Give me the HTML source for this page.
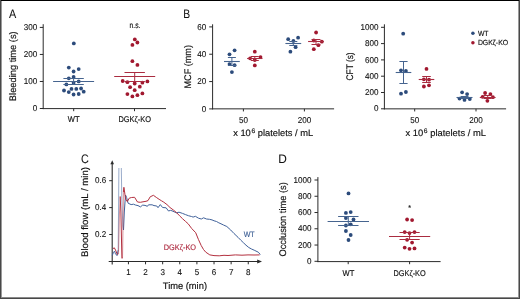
<!DOCTYPE html>
<html><head><meta charset="utf-8"><style>
html,body{margin:0;padding:0;background:#fff;}
body{width:520px;height:299px;overflow:hidden;}
svg{display:block;font-family:"Liberation Sans", sans-serif;will-change:transform;text-rendering:geometricPrecision;}
</style></head><body>
<svg width="520" height="299" viewBox="0 0 520 299">
<rect x="0" y="0" width="520" height="299" fill="#fff"/>
<text transform="translate(9.00,17.60) scale(0.88,1)" x="0" y="0" font-size="12.35" fill="#111" stroke="#111" stroke-width="0.05">A</text>
<line x1="43.20" y1="24.20" x2="43.20" y2="109.10" stroke="#2a2a2a" stroke-width="1.0"/>
<line x1="39.80" y1="108.50" x2="43.20" y2="108.50" stroke="#2a2a2a" stroke-width="1.0"/>
<text x="37.20" y="111.10" font-size="8.5" text-anchor="end" fill="#111" stroke="#111" stroke-width="0.1" textLength="4.50" lengthAdjust="spacingAndGlyphs" >0</text>
<line x1="39.80" y1="81.47" x2="43.20" y2="81.47" stroke="#2a2a2a" stroke-width="1.0"/>
<text x="37.20" y="84.07" font-size="8.5" text-anchor="end" fill="#111" stroke="#111" stroke-width="0.1" textLength="13.50" lengthAdjust="spacingAndGlyphs" >100</text>
<line x1="39.80" y1="54.44" x2="43.20" y2="54.44" stroke="#2a2a2a" stroke-width="1.0"/>
<text x="37.20" y="57.04" font-size="8.5" text-anchor="end" fill="#111" stroke="#111" stroke-width="0.1" textLength="13.50" lengthAdjust="spacingAndGlyphs" >200</text>
<line x1="39.80" y1="27.41" x2="43.20" y2="27.41" stroke="#2a2a2a" stroke-width="1.0"/>
<text x="37.20" y="30.01" font-size="8.5" text-anchor="end" fill="#111" stroke="#111" stroke-width="0.1" textLength="13.50" lengthAdjust="spacingAndGlyphs" >300</text>
<line x1="42.70" y1="108.60" x2="166.00" y2="108.60" stroke="#2a2a2a" stroke-width="1.0"/>
<line x1="73.70" y1="108.60" x2="73.70" y2="111.20" stroke="#2a2a2a" stroke-width="1.0"/>
<line x1="134.50" y1="108.60" x2="134.50" y2="111.20" stroke="#2a2a2a" stroke-width="1.0"/>
<text x="73.70" y="122.40" font-size="8.3" text-anchor="middle" fill="#111" stroke="#111" stroke-width="0.16" textLength="11.8" lengthAdjust="spacingAndGlyphs" >WT</text>
<text x="134.70" y="122.40" font-size="8.3" text-anchor="middle" fill="#111" stroke="#111" stroke-width="0.16" textLength="32.6" lengthAdjust="spacingAndGlyphs" >DGKζ-KO</text>
<text x="129.60" y="27.50" font-size="8.2" text-anchor="start" fill="#111" stroke="#111" stroke-width="0.16" textLength="10.9" lengthAdjust="spacingAndGlyphs" >n.s.</text>
<text transform="translate(15.80,66.25) rotate(-90)" x="0" y="0" font-size="9.6" text-anchor="middle" fill="#111" stroke="#111" stroke-width="0.16" textLength="69.8" lengthAdjust="spacingAndGlyphs">Bleeding time (s)</text>
<circle cx="73.80" cy="43.40" r="1.9" fill="#2c4b7b"/>
<circle cx="68.80" cy="67.60" r="1.9" fill="#2c4b7b"/>
<circle cx="78.70" cy="69.10" r="1.9" fill="#2c4b7b"/>
<circle cx="73.60" cy="71.50" r="1.9" fill="#2c4b7b"/>
<circle cx="68.80" cy="78.30" r="1.9" fill="#2c4b7b"/>
<circle cx="73.60" cy="77.00" r="1.9" fill="#2c4b7b"/>
<circle cx="78.70" cy="81.40" r="1.9" fill="#2c4b7b"/>
<circle cx="66.40" cy="84.40" r="1.9" fill="#2c4b7b"/>
<circle cx="73.60" cy="82.80" r="1.9" fill="#2c4b7b"/>
<circle cx="64.00" cy="90.50" r="1.9" fill="#2c4b7b"/>
<circle cx="71.50" cy="88.90" r="1.9" fill="#2c4b7b"/>
<circle cx="76.30" cy="88.90" r="1.9" fill="#2c4b7b"/>
<circle cx="81.10" cy="88.50" r="1.9" fill="#2c4b7b"/>
<circle cx="68.80" cy="92.10" r="1.9" fill="#2c4b7b"/>
<circle cx="83.70" cy="91.70" r="1.9" fill="#2c4b7b"/>
<circle cx="73.60" cy="94.50" r="1.9" fill="#2c4b7b"/>
<circle cx="78.70" cy="94.00" r="1.9" fill="#2c4b7b"/>
<line x1="53.10" y1="81.50" x2="94.10" y2="81.50" stroke="#46648f" stroke-width="1.1"/>
<line x1="63.40" y1="78.50" x2="83.80" y2="78.50" stroke="#46648f" stroke-width="1.0"/>
<line x1="63.40" y1="84.50" x2="83.80" y2="84.50" stroke="#46648f" stroke-width="1.0"/>
<line x1="73.60" y1="78.50" x2="73.60" y2="84.50" stroke="#46648f" stroke-width="1.0"/>
<circle cx="134.80" cy="39.40" r="1.9" fill="#a1182f"/>
<circle cx="137.40" cy="42.50" r="1.9" fill="#a1182f"/>
<circle cx="132.40" cy="44.90" r="1.9" fill="#a1182f"/>
<circle cx="132.40" cy="61.20" r="1.9" fill="#a1182f"/>
<circle cx="137.40" cy="64.90" r="1.9" fill="#a1182f"/>
<circle cx="122.70" cy="81.00" r="1.9" fill="#a1182f"/>
<circle cx="127.40" cy="82.20" r="1.9" fill="#a1182f"/>
<circle cx="134.70" cy="83.50" r="1.9" fill="#a1182f"/>
<circle cx="142.40" cy="82.70" r="1.9" fill="#a1182f"/>
<circle cx="147.40" cy="81.40" r="1.9" fill="#a1182f"/>
<circle cx="130.10" cy="87.20" r="1.9" fill="#a1182f"/>
<circle cx="139.80" cy="86.70" r="1.9" fill="#a1182f"/>
<circle cx="134.70" cy="90.20" r="1.9" fill="#a1182f"/>
<circle cx="127.40" cy="94.10" r="1.9" fill="#a1182f"/>
<circle cx="132.40" cy="96.40" r="1.9" fill="#a1182f"/>
<circle cx="137.40" cy="95.20" r="1.9" fill="#a1182f"/>
<circle cx="142.40" cy="93.40" r="1.9" fill="#a1182f"/>
<line x1="114.20" y1="76.50" x2="155.20" y2="76.50" stroke="#aa2c40" stroke-width="1.1"/>
<line x1="124.50" y1="72.50" x2="144.90" y2="72.50" stroke="#aa2c40" stroke-width="1.0"/>
<line x1="124.50" y1="81.50" x2="144.90" y2="81.50" stroke="#aa2c40" stroke-width="1.0"/>
<line x1="134.70" y1="72.50" x2="134.70" y2="81.50" stroke="#aa2c40" stroke-width="1.0"/>
<text transform="translate(183.20,17.70) scale(0.84,1)" x="0" y="0" font-size="12.35" fill="#111" stroke="#111" stroke-width="0.05">B</text>
<line x1="212.60" y1="24.30" x2="212.60" y2="109.35" stroke="#2a2a2a" stroke-width="1.0"/>
<line x1="209.20" y1="108.90" x2="212.60" y2="108.90" stroke="#2a2a2a" stroke-width="1.0"/>
<text x="206.20" y="111.50" font-size="8.5" text-anchor="end" fill="#111" stroke="#111" stroke-width="0.1" textLength="4.50" lengthAdjust="spacingAndGlyphs" >0</text>
<line x1="209.20" y1="81.57" x2="212.60" y2="81.57" stroke="#2a2a2a" stroke-width="1.0"/>
<text x="206.20" y="84.17" font-size="8.5" text-anchor="end" fill="#111" stroke="#111" stroke-width="0.1" textLength="9.00" lengthAdjust="spacingAndGlyphs" >20</text>
<line x1="209.20" y1="54.23" x2="212.60" y2="54.23" stroke="#2a2a2a" stroke-width="1.0"/>
<text x="206.20" y="56.83" font-size="8.5" text-anchor="end" fill="#111" stroke="#111" stroke-width="0.1" textLength="9.00" lengthAdjust="spacingAndGlyphs" >40</text>
<line x1="209.20" y1="26.90" x2="212.60" y2="26.90" stroke="#2a2a2a" stroke-width="1.0"/>
<text x="206.20" y="29.50" font-size="8.5" text-anchor="end" fill="#111" stroke="#111" stroke-width="0.1" textLength="9.00" lengthAdjust="spacingAndGlyphs" >60</text>
<line x1="212.10" y1="108.85" x2="334.10" y2="108.85" stroke="#2a2a2a" stroke-width="1.0"/>
<line x1="243.40" y1="108.85" x2="243.40" y2="111.45" stroke="#2a2a2a" stroke-width="1.0"/>
<line x1="304.40" y1="108.85" x2="304.40" y2="111.45" stroke="#2a2a2a" stroke-width="1.0"/>
<text x="243.40" y="123.20" font-size="8.5" text-anchor="middle" fill="#111" stroke="#111" stroke-width="0.1" textLength="9.00" lengthAdjust="spacingAndGlyphs" >50</text>
<text x="304.40" y="123.20" font-size="8.5" text-anchor="middle" fill="#111" stroke="#111" stroke-width="0.1" textLength="13.50" lengthAdjust="spacingAndGlyphs" >200</text>
<text transform="translate(190.60,66.80) rotate(-90)" x="0" y="0" font-size="9.6" text-anchor="middle" fill="#111" stroke="#111" stroke-width="0.16" textLength="43.4" lengthAdjust="spacingAndGlyphs">MCF (mm)</text>
<text x="233.20" y="136.20" font-size="9.2" fill="#111" stroke="#111" stroke-width="0.16" textLength="79.9" lengthAdjust="spacingAndGlyphs">x 10<tspan font-size="6.6" dx="0.6" dy="-2.8">6</tspan><tspan dy="2.8"> platelets / mL</tspan></text>
<circle cx="234.60" cy="50.30" r="1.9" fill="#2c4b7b"/>
<circle cx="229.50" cy="54.30" r="1.9" fill="#2c4b7b"/>
<circle cx="229.50" cy="64.10" r="1.9" fill="#2c4b7b"/>
<circle cx="234.60" cy="65.20" r="1.9" fill="#2c4b7b"/>
<circle cx="231.90" cy="72.10" r="1.9" fill="#2c4b7b"/>
<line x1="224.00" y1="61.50" x2="239.80" y2="61.50" stroke="#46648f" stroke-width="1.1"/>
<line x1="227.90" y1="57.50" x2="235.90" y2="57.50" stroke="#46648f" stroke-width="1.0"/>
<line x1="227.90" y1="65.50" x2="235.90" y2="65.50" stroke="#46648f" stroke-width="1.0"/>
<line x1="231.90" y1="57.50" x2="231.90" y2="65.50" stroke="#46648f" stroke-width="1.0"/>
<circle cx="254.80" cy="51.70" r="1.9" fill="#a1182f"/>
<circle cx="250.10" cy="58.30" r="1.9" fill="#a1182f"/>
<circle cx="260.50" cy="57.10" r="1.9" fill="#a1182f"/>
<circle cx="254.80" cy="60.00" r="1.9" fill="#a1182f"/>
<circle cx="254.80" cy="65.40" r="1.9" fill="#a1182f"/>
<line x1="247.10" y1="58.50" x2="262.50" y2="58.50" stroke="#aa2c40" stroke-width="1.1"/>
<line x1="250.80" y1="56.50" x2="258.80" y2="56.50" stroke="#aa2c40" stroke-width="1.0"/>
<line x1="250.80" y1="60.50" x2="258.80" y2="60.50" stroke="#aa2c40" stroke-width="1.0"/>
<line x1="254.80" y1="56.50" x2="254.80" y2="60.50" stroke="#aa2c40" stroke-width="1.0"/>
<circle cx="288.20" cy="39.20" r="1.9" fill="#2c4b7b"/>
<circle cx="298.10" cy="37.70" r="1.9" fill="#2c4b7b"/>
<circle cx="293.40" cy="40.90" r="1.9" fill="#2c4b7b"/>
<circle cx="295.60" cy="47.20" r="1.9" fill="#2c4b7b"/>
<circle cx="290.40" cy="51.70" r="1.9" fill="#2c4b7b"/>
<line x1="285.40" y1="43.50" x2="301.20" y2="43.50" stroke="#46648f" stroke-width="1.1"/>
<line x1="289.30" y1="41.50" x2="297.30" y2="41.50" stroke="#46648f" stroke-width="1.0"/>
<line x1="289.30" y1="45.50" x2="297.30" y2="45.50" stroke="#46648f" stroke-width="1.0"/>
<line x1="293.30" y1="41.50" x2="293.30" y2="45.50" stroke="#46648f" stroke-width="1.0"/>
<circle cx="316.10" cy="32.50" r="1.9" fill="#a1182f"/>
<circle cx="313.80" cy="40.50" r="1.9" fill="#a1182f"/>
<circle cx="321.80" cy="41.70" r="1.9" fill="#a1182f"/>
<circle cx="318.40" cy="45.20" r="1.9" fill="#a1182f"/>
<circle cx="313.80" cy="49.20" r="1.9" fill="#a1182f"/>
<line x1="308.10" y1="41.50" x2="323.90" y2="41.50" stroke="#aa2c40" stroke-width="1.1"/>
<line x1="311.50" y1="39.50" x2="320.50" y2="39.50" stroke="#aa2c40" stroke-width="1.0"/>
<line x1="311.50" y1="44.50" x2="320.50" y2="44.50" stroke="#aa2c40" stroke-width="1.0"/>
<line x1="316.00" y1="39.50" x2="316.00" y2="44.50" stroke="#aa2c40" stroke-width="1.0"/>
<line x1="384.40" y1="24.30" x2="384.40" y2="109.35" stroke="#2a2a2a" stroke-width="1.0"/>
<line x1="381.00" y1="108.80" x2="384.40" y2="108.80" stroke="#2a2a2a" stroke-width="1.0"/>
<text x="378.40" y="111.40" font-size="8.5" text-anchor="end" fill="#111" stroke="#111" stroke-width="0.1" textLength="4.50" lengthAdjust="spacingAndGlyphs" >0</text>
<line x1="381.00" y1="92.50" x2="384.40" y2="92.50" stroke="#2a2a2a" stroke-width="1.0"/>
<text x="378.40" y="95.10" font-size="8.5" text-anchor="end" fill="#111" stroke="#111" stroke-width="0.1" textLength="13.50" lengthAdjust="spacingAndGlyphs" >200</text>
<line x1="381.00" y1="76.20" x2="384.40" y2="76.20" stroke="#2a2a2a" stroke-width="1.0"/>
<text x="378.40" y="78.80" font-size="8.5" text-anchor="end" fill="#111" stroke="#111" stroke-width="0.1" textLength="13.50" lengthAdjust="spacingAndGlyphs" >400</text>
<line x1="381.00" y1="59.90" x2="384.40" y2="59.90" stroke="#2a2a2a" stroke-width="1.0"/>
<text x="378.40" y="62.50" font-size="8.5" text-anchor="end" fill="#111" stroke="#111" stroke-width="0.1" textLength="13.50" lengthAdjust="spacingAndGlyphs" >600</text>
<line x1="381.00" y1="43.60" x2="384.40" y2="43.60" stroke="#2a2a2a" stroke-width="1.0"/>
<text x="378.40" y="46.20" font-size="8.5" text-anchor="end" fill="#111" stroke="#111" stroke-width="0.1" textLength="13.50" lengthAdjust="spacingAndGlyphs" >800</text>
<line x1="381.00" y1="27.30" x2="384.40" y2="27.30" stroke="#2a2a2a" stroke-width="1.0"/>
<text x="378.40" y="29.90" font-size="8.5" text-anchor="end" fill="#111" stroke="#111" stroke-width="0.1" textLength="18.00" lengthAdjust="spacingAndGlyphs" >1000</text>
<line x1="383.90" y1="108.85" x2="506.10" y2="108.85" stroke="#2a2a2a" stroke-width="1.0"/>
<line x1="414.70" y1="108.85" x2="414.70" y2="111.45" stroke="#2a2a2a" stroke-width="1.0"/>
<line x1="476.00" y1="108.85" x2="476.00" y2="111.45" stroke="#2a2a2a" stroke-width="1.0"/>
<text x="414.70" y="123.20" font-size="8.5" text-anchor="middle" fill="#111" stroke="#111" stroke-width="0.1" textLength="9.00" lengthAdjust="spacingAndGlyphs" >50</text>
<text x="476.00" y="123.20" font-size="8.5" text-anchor="middle" fill="#111" stroke="#111" stroke-width="0.1" textLength="13.50" lengthAdjust="spacingAndGlyphs" >200</text>
<text transform="translate(352.60,66.40) rotate(-90)" x="0" y="0" font-size="9.6" text-anchor="middle" fill="#111" stroke="#111" stroke-width="0.16" textLength="28" lengthAdjust="spacingAndGlyphs">CFT (s)</text>
<text x="405.50" y="136.20" font-size="9.2" fill="#111" stroke="#111" stroke-width="0.16" textLength="80.5" lengthAdjust="spacingAndGlyphs">x 10<tspan font-size="6.6" dx="0.6" dy="-2.8">6</tspan><tspan dy="2.8"> platelets / mL</tspan></text>
<circle cx="403.20" cy="33.70" r="1.9" fill="#2c4b7b"/>
<circle cx="401.00" cy="70.30" r="1.9" fill="#2c4b7b"/>
<circle cx="405.90" cy="70.90" r="1.9" fill="#2c4b7b"/>
<circle cx="401.00" cy="93.70" r="1.9" fill="#2c4b7b"/>
<circle cx="405.90" cy="92.00" r="1.9" fill="#2c4b7b"/>
<line x1="395.70" y1="72.50" x2="411.30" y2="72.50" stroke="#46648f" stroke-width="1.1"/>
<line x1="399.40" y1="61.50" x2="407.60" y2="61.50" stroke="#46648f" stroke-width="1.0"/>
<line x1="399.40" y1="83.50" x2="407.60" y2="83.50" stroke="#46648f" stroke-width="1.0"/>
<line x1="403.50" y1="61.50" x2="403.50" y2="83.50" stroke="#46648f" stroke-width="1.0"/>
<circle cx="426.50" cy="68.90" r="1.9" fill="#a1182f"/>
<circle cx="423.90" cy="79.30" r="1.9" fill="#a1182f"/>
<circle cx="429.00" cy="79.70" r="1.9" fill="#a1182f"/>
<circle cx="423.90" cy="86.50" r="1.9" fill="#a1182f"/>
<circle cx="429.00" cy="85.30" r="1.9" fill="#a1182f"/>
<line x1="418.70" y1="79.50" x2="434.30" y2="79.50" stroke="#aa2c40" stroke-width="1.1"/>
<line x1="422.20" y1="76.50" x2="430.80" y2="76.50" stroke="#aa2c40" stroke-width="1.0"/>
<line x1="422.20" y1="82.50" x2="430.80" y2="82.50" stroke="#aa2c40" stroke-width="1.0"/>
<line x1="426.50" y1="76.50" x2="426.50" y2="82.50" stroke="#aa2c40" stroke-width="1.0"/>
<circle cx="462.10" cy="92.30" r="1.9" fill="#2c4b7b"/>
<circle cx="467.10" cy="94.10" r="1.9" fill="#2c4b7b"/>
<circle cx="459.50" cy="98.60" r="1.9" fill="#2c4b7b"/>
<circle cx="464.50" cy="99.90" r="1.9" fill="#2c4b7b"/>
<circle cx="469.80" cy="99.00" r="1.9" fill="#2c4b7b"/>
<line x1="456.50" y1="97.50" x2="472.50" y2="97.50" stroke="#46648f" stroke-width="1.1"/>
<line x1="460.50" y1="96.50" x2="468.50" y2="96.50" stroke="#46648f" stroke-width="1.0"/>
<line x1="460.50" y1="98.50" x2="468.50" y2="98.50" stroke="#46648f" stroke-width="1.0"/>
<line x1="464.50" y1="96.50" x2="464.50" y2="98.50" stroke="#46648f" stroke-width="1.0"/>
<circle cx="485.10" cy="93.00" r="1.9" fill="#a1182f"/>
<circle cx="490.40" cy="94.10" r="1.9" fill="#a1182f"/>
<circle cx="482.60" cy="96.80" r="1.9" fill="#a1182f"/>
<circle cx="492.90" cy="97.20" r="1.9" fill="#a1182f"/>
<circle cx="487.40" cy="100.80" r="1.9" fill="#a1182f"/>
<line x1="479.80" y1="97.50" x2="495.60" y2="97.50" stroke="#aa2c40" stroke-width="1.1"/>
<line x1="483.70" y1="95.50" x2="491.70" y2="95.50" stroke="#aa2c40" stroke-width="1.0"/>
<line x1="483.70" y1="98.50" x2="491.70" y2="98.50" stroke="#aa2c40" stroke-width="1.0"/>
<line x1="487.70" y1="95.50" x2="487.70" y2="98.50" stroke="#aa2c40" stroke-width="1.0"/>
<circle cx="472.90" cy="33.30" r="1.75" fill="#2c4b7b"/>
<circle cx="472.90" cy="42.80" r="1.75" fill="#a1182f"/>
<text x="477.90" y="35.90" font-size="7.4" text-anchor="start" fill="#111" stroke="#111" stroke-width="0.16" textLength="10.6" lengthAdjust="spacingAndGlyphs" >WT</text>
<text x="477.90" y="45.40" font-size="7.4" text-anchor="start" fill="#111" stroke="#111" stroke-width="0.16" textLength="30.2" lengthAdjust="spacingAndGlyphs" >DGKζ-KO</text>
<text transform="translate(80.90,163.00) scale(0.87,1)" x="0" y="0" font-size="12.35" fill="#111" stroke="#111" stroke-width="0.05">C</text>
<line x1="112.20" y1="163.50" x2="112.20" y2="261.90" stroke="#2a2a2a" stroke-width="1.1"/>
<path d="M110.4,164.2 L112.2,160.3 L114.0,164.2 Z" fill="#2a2a2a"/>
<line x1="109.20" y1="234.50" x2="112.20" y2="234.50" stroke="#2a2a2a" stroke-width="1.0"/>
<text x="106.20" y="237.10" font-size="8.5" text-anchor="end" fill="#111" stroke="#111" stroke-width="0.1" textLength="11.20" lengthAdjust="spacingAndGlyphs" >0.2</text>
<line x1="109.20" y1="207.60" x2="112.20" y2="207.60" stroke="#2a2a2a" stroke-width="1.0"/>
<text x="106.20" y="210.20" font-size="8.5" text-anchor="end" fill="#111" stroke="#111" stroke-width="0.1" textLength="11.20" lengthAdjust="spacingAndGlyphs" >0.4</text>
<line x1="109.20" y1="180.70" x2="112.20" y2="180.70" stroke="#2a2a2a" stroke-width="1.0"/>
<text x="106.20" y="183.30" font-size="8.5" text-anchor="end" fill="#111" stroke="#111" stroke-width="0.1" textLength="11.20" lengthAdjust="spacingAndGlyphs" >0.6</text>
<line x1="108.70" y1="261.50" x2="258.00" y2="261.50" stroke="#2a2a2a" stroke-width="1.1"/>
<path d="M257.2,259.6 L262.0,261.5 L257.2,263.4 Z" fill="#2a2a2a"/>
<line x1="112.20" y1="261.50" x2="112.20" y2="264.60" stroke="#2a2a2a" stroke-width="1.1"/>
<line x1="128.43" y1="261.50" x2="128.43" y2="264.30" stroke="#2a2a2a" stroke-width="1.0"/>
<text x="128.43" y="275.40" font-size="8.5" text-anchor="middle" fill="#111" stroke="#111" stroke-width="0.1" textLength="4.50" lengthAdjust="spacingAndGlyphs" >1</text>
<line x1="145.55" y1="261.50" x2="145.55" y2="264.30" stroke="#2a2a2a" stroke-width="1.0"/>
<text x="145.55" y="275.40" font-size="8.5" text-anchor="middle" fill="#111" stroke="#111" stroke-width="0.1" textLength="4.50" lengthAdjust="spacingAndGlyphs" >2</text>
<line x1="162.66" y1="261.50" x2="162.66" y2="264.30" stroke="#2a2a2a" stroke-width="1.0"/>
<text x="162.66" y="275.40" font-size="8.5" text-anchor="middle" fill="#111" stroke="#111" stroke-width="0.1" textLength="4.50" lengthAdjust="spacingAndGlyphs" >3</text>
<line x1="179.78" y1="261.50" x2="179.78" y2="264.30" stroke="#2a2a2a" stroke-width="1.0"/>
<text x="179.78" y="275.40" font-size="8.5" text-anchor="middle" fill="#111" stroke="#111" stroke-width="0.1" textLength="4.50" lengthAdjust="spacingAndGlyphs" >4</text>
<line x1="196.90" y1="261.50" x2="196.90" y2="264.30" stroke="#2a2a2a" stroke-width="1.0"/>
<text x="196.90" y="275.40" font-size="8.5" text-anchor="middle" fill="#111" stroke="#111" stroke-width="0.1" textLength="4.50" lengthAdjust="spacingAndGlyphs" >5</text>
<line x1="214.02" y1="261.50" x2="214.02" y2="264.30" stroke="#2a2a2a" stroke-width="1.0"/>
<text x="214.02" y="275.40" font-size="8.5" text-anchor="middle" fill="#111" stroke="#111" stroke-width="0.1" textLength="4.50" lengthAdjust="spacingAndGlyphs" >6</text>
<line x1="231.14" y1="261.50" x2="231.14" y2="264.30" stroke="#2a2a2a" stroke-width="1.0"/>
<text x="231.14" y="275.40" font-size="8.5" text-anchor="middle" fill="#111" stroke="#111" stroke-width="0.1" textLength="4.50" lengthAdjust="spacingAndGlyphs" >7</text>
<line x1="248.25" y1="261.50" x2="248.25" y2="264.30" stroke="#2a2a2a" stroke-width="1.0"/>
<text x="248.25" y="275.40" font-size="8.5" text-anchor="middle" fill="#111" stroke="#111" stroke-width="0.1" textLength="4.50" lengthAdjust="spacingAndGlyphs" >8</text>
<text x="184.90" y="288.90" font-size="9.5" text-anchor="middle" fill="#111" stroke="#111" stroke-width="0.16" textLength="44.2" lengthAdjust="spacingAndGlyphs" >Time (min)</text>
<text transform="translate(87.90,212.00) rotate(-90)" x="0" y="0" font-size="9.6" text-anchor="middle" fill="#111" stroke="#111" stroke-width="0.16" textLength="90" lengthAdjust="spacingAndGlyphs">Blood flow (mL / min)</text>
<text x="243.70" y="237.00" font-size="8.0" text-anchor="start" fill="#3d5f95" stroke="#3d5f95" stroke-width="0.16" textLength="11.0" lengthAdjust="spacingAndGlyphs" >WT</text>
<text x="163.80" y="249.60" font-size="8.0" text-anchor="start" fill="#b03045" stroke="#b03045" stroke-width="0.16" textLength="32.3" lengthAdjust="spacingAndGlyphs" >DGKζ-KO</text>
<polyline points="112.30,255.40 113.50,252.20 114.50,251.20 115.50,253.80 117.00,255.60 118.20,250.00" fill="none" stroke="#40619a" stroke-width="1.0" stroke-linejoin="round"/>
<polyline points="118.20,250.00 118.90,168.00" fill="none" stroke="#40619a" stroke-width="0.9" stroke-opacity="0.6" stroke-linejoin="round"/>
<polyline points="121.30,168.00 121.80,198.00 122.80,226.00 123.50,230.00" fill="none" stroke="#40619a" stroke-width="0.9" stroke-opacity="0.6" stroke-linejoin="round"/>
<polyline points="123.50,230.00 124.30,212.00 125.50,195.00 126.60,197.50 128.10,203.20 131.10,204.60 133.50,204.20 135.70,205.10 138.00,205.60 140.40,206.90 142.70,205.10 145.00,205.40 147.40,206.30 148.50,204.80 152.10,204.80 154.00,205.60 156.80,206.00 158.00,207.70 160.30,204.60 162.60,207.50 166.10,207.80 168.50,211.00 170.50,210.40 172.00,210.80 174.50,212.00 176.70,212.80 179.00,212.20 182.50,213.40 185.50,214.60 188.40,215.70 191.50,216.50 193.10,217.10 195.40,216.30 198.50,218.20 201.30,219.00 203.60,217.80 206.50,219.00 209.40,219.30 212.00,219.90 214.10,220.80 216.50,221.50 218.80,222.80 221.00,223.80 223.50,225.00 226.80,226.50 230.70,230.00 234.00,233.50 238.10,237.40 240.80,240.20 243.50,242.80 246.00,245.20 248.80,247.50 251.50,249.00 254.20,250.20 258.30,252.20 260.30,254.50" fill="none" stroke="#40619a" stroke-width="1.0" stroke-linejoin="round"/>
<polyline points="112.90,248.70 114.30,247.80 115.50,250.00 117.30,254.50" fill="none" stroke="#b3303f" stroke-width="1.0" stroke-linejoin="round"/>
<polyline points="117.30,254.50 118.50,254.00 119.40,215.00 120.20,196.50" fill="none" stroke="#b3303f" stroke-width="0.9" stroke-opacity="0.6" stroke-linejoin="round"/>
<polyline points="120.20,196.50 120.90,212.00 121.90,258.30 122.50,258.00" fill="none" stroke="#b3303f" stroke-width="1.0" stroke-linejoin="round"/>
<polyline points="122.50,258.00 123.00,226.00 123.40,192.00" fill="none" stroke="#b3303f" stroke-width="0.9" stroke-opacity="0.6" stroke-linejoin="round"/>
<polyline points="123.40,192.00 123.90,187.30 124.60,192.00 125.60,199.00 127.30,201.60 129.30,198.10 131.60,197.50 134.60,197.30 137.50,202.00 140.40,202.30 143.00,201.80 146.00,201.30 148.00,200.60 150.20,196.80 153.40,195.30 156.30,197.40 159.10,199.30 161.50,200.80 163.80,202.20 167.00,204.60 170.00,207.50 173.50,210.10 176.70,212.80 179.60,215.80 182.50,218.70 185.40,221.30 188.20,223.80 191.70,228.50 195.70,232.70 198.40,239.40 201.20,245.50 203.50,249.50 205.80,252.20 209.80,254.90 214.00,255.60 219.20,255.80 224.00,255.30 228.00,255.50 235.40,254.90 242.00,255.20 248.00,254.90 254.00,255.00 259.60,254.90" fill="none" stroke="#b3303f" stroke-width="1.0" stroke-linejoin="round"/>
<text transform="translate(278.20,163.00) scale(0.96,1)" x="0" y="0" font-size="12.35" fill="#111" stroke="#111" stroke-width="0.05">D</text>
<line x1="317.90" y1="177.10" x2="317.90" y2="262.10" stroke="#2a2a2a" stroke-width="1.0"/>
<line x1="314.50" y1="261.30" x2="317.90" y2="261.30" stroke="#2a2a2a" stroke-width="1.0"/>
<text x="311.60" y="263.90" font-size="8.5" text-anchor="end" fill="#111" stroke="#111" stroke-width="0.1" textLength="4.50" lengthAdjust="spacingAndGlyphs" >0</text>
<line x1="314.50" y1="245.04" x2="317.90" y2="245.04" stroke="#2a2a2a" stroke-width="1.0"/>
<text x="311.60" y="247.64" font-size="8.5" text-anchor="end" fill="#111" stroke="#111" stroke-width="0.1" textLength="13.50" lengthAdjust="spacingAndGlyphs" >200</text>
<line x1="314.50" y1="228.78" x2="317.90" y2="228.78" stroke="#2a2a2a" stroke-width="1.0"/>
<text x="311.60" y="231.38" font-size="8.5" text-anchor="end" fill="#111" stroke="#111" stroke-width="0.1" textLength="13.50" lengthAdjust="spacingAndGlyphs" >400</text>
<line x1="314.50" y1="212.52" x2="317.90" y2="212.52" stroke="#2a2a2a" stroke-width="1.0"/>
<text x="311.60" y="215.12" font-size="8.5" text-anchor="end" fill="#111" stroke="#111" stroke-width="0.1" textLength="13.50" lengthAdjust="spacingAndGlyphs" >600</text>
<line x1="314.50" y1="196.26" x2="317.90" y2="196.26" stroke="#2a2a2a" stroke-width="1.0"/>
<text x="311.60" y="198.86" font-size="8.5" text-anchor="end" fill="#111" stroke="#111" stroke-width="0.1" textLength="13.50" lengthAdjust="spacingAndGlyphs" >800</text>
<line x1="314.50" y1="180.00" x2="317.90" y2="180.00" stroke="#2a2a2a" stroke-width="1.0"/>
<text x="311.60" y="182.60" font-size="8.5" text-anchor="end" fill="#111" stroke="#111" stroke-width="0.1" textLength="18.00" lengthAdjust="spacingAndGlyphs" >1000</text>
<line x1="317.40" y1="261.60" x2="440.60" y2="261.60" stroke="#2a2a2a" stroke-width="1.0"/>
<line x1="348.20" y1="261.60" x2="348.20" y2="264.20" stroke="#2a2a2a" stroke-width="1.0"/>
<line x1="409.60" y1="261.60" x2="409.60" y2="264.20" stroke="#2a2a2a" stroke-width="1.0"/>
<text x="348.40" y="275.60" font-size="8.3" text-anchor="middle" fill="#111" stroke="#111" stroke-width="0.16" textLength="11.8" lengthAdjust="spacingAndGlyphs" >WT</text>
<text x="409.60" y="275.60" font-size="8.3" text-anchor="middle" fill="#111" stroke="#111" stroke-width="0.16" textLength="32.2" lengthAdjust="spacingAndGlyphs" >DGKζ-KO</text>
<text transform="translate(285.70,219.40) rotate(-90)" x="0" y="0" font-size="9.6" text-anchor="middle" fill="#111" stroke="#111" stroke-width="0.16" textLength="74.4" lengthAdjust="spacingAndGlyphs">Occlusion time (s)</text>
<circle cx="348.50" cy="193.40" r="1.9" fill="#2c4b7b"/>
<circle cx="345.90" cy="212.90" r="1.9" fill="#2c4b7b"/>
<circle cx="350.70" cy="212.10" r="1.9" fill="#2c4b7b"/>
<circle cx="345.90" cy="218.10" r="1.9" fill="#2c4b7b"/>
<circle cx="353.50" cy="219.50" r="1.9" fill="#2c4b7b"/>
<circle cx="345.90" cy="225.50" r="1.9" fill="#2c4b7b"/>
<circle cx="350.70" cy="224.30" r="1.9" fill="#2c4b7b"/>
<circle cx="345.90" cy="231.00" r="1.9" fill="#2c4b7b"/>
<circle cx="350.70" cy="235.00" r="1.9" fill="#2c4b7b"/>
<circle cx="348.50" cy="240.00" r="1.9" fill="#2c4b7b"/>
<line x1="327.60" y1="221.50" x2="369.00" y2="221.50" stroke="#46648f" stroke-width="1.1"/>
<line x1="338.10" y1="216.50" x2="358.50" y2="216.50" stroke="#46648f" stroke-width="1.0"/>
<line x1="338.10" y1="225.50" x2="358.50" y2="225.50" stroke="#46648f" stroke-width="1.0"/>
<line x1="348.30" y1="216.50" x2="348.30" y2="225.50" stroke="#46648f" stroke-width="1.0"/>
<circle cx="407.10" cy="219.50" r="1.9" fill="#a1182f"/>
<circle cx="412.10" cy="220.10" r="1.9" fill="#a1182f"/>
<circle cx="404.70" cy="232.10" r="1.9" fill="#a1182f"/>
<circle cx="409.50" cy="233.10" r="1.9" fill="#a1182f"/>
<circle cx="414.50" cy="232.10" r="1.9" fill="#a1182f"/>
<circle cx="407.10" cy="239.80" r="1.9" fill="#a1182f"/>
<circle cx="412.10" cy="242.60" r="1.9" fill="#a1182f"/>
<circle cx="404.70" cy="247.60" r="1.9" fill="#a1182f"/>
<circle cx="409.50" cy="248.80" r="1.9" fill="#a1182f"/>
<circle cx="414.50" cy="248.40" r="1.9" fill="#a1182f"/>
<line x1="389.00" y1="236.50" x2="430.20" y2="236.50" stroke="#aa2c40" stroke-width="1.1"/>
<line x1="399.50" y1="232.50" x2="419.70" y2="232.50" stroke="#aa2c40" stroke-width="1.0"/>
<line x1="399.50" y1="239.50" x2="419.70" y2="239.50" stroke="#aa2c40" stroke-width="1.0"/>
<line x1="409.60" y1="232.50" x2="409.60" y2="239.50" stroke="#aa2c40" stroke-width="1.0"/>
<text x="409.50" y="209.60" font-size="7" text-anchor="middle" fill="#111" stroke="#111" stroke-width="0.16" >*</text>

<rect x="0" y="0" width="520" height="1" fill="#000"/>
<rect x="0" y="0" width="1" height="299" fill="#484848"/>
<rect x="1" y="1" width="1" height="297" fill="#9a9a9a"/>
<rect x="519" y="0" width="1" height="299" fill="#484848"/>
<rect x="518" y="1" width="1" height="297" fill="#9a9a9a"/>
<rect x="0" y="298" width="520" height="1" fill="#484848"/>
<rect x="1" y="297" width="518" height="1" fill="#8a8a8a"/>

</svg>
</body></html>
